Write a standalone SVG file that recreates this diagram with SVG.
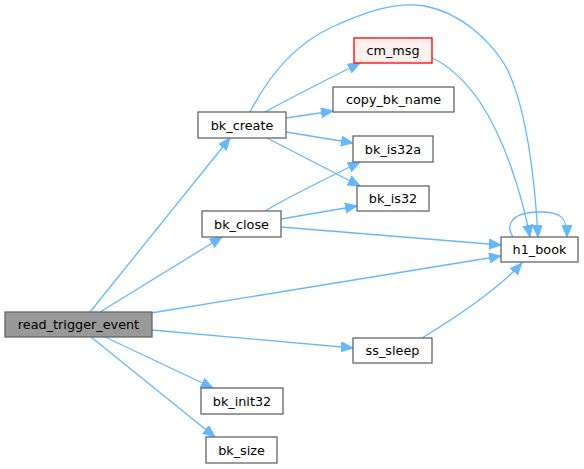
<svg xmlns="http://www.w3.org/2000/svg" width="584" height="469" viewBox="0 0 584 469">
<style>
.n rect{fill:#ffffff;stroke:#666666;stroke-width:1.3}
.n text{font-family:"DejaVu Sans",sans-serif;font-size:12.8px;fill:#000000;text-anchor:middle}
.e path{fill:none;stroke:#63b8ff;stroke-width:1.3;marker-end:url(#ah)}
</style>
<defs>
<marker id="ah" markerUnits="userSpaceOnUse" markerWidth="13" markerHeight="11" refX="12" refY="5" orient="auto">
<path d="M0,0 L12,5 L0,10 z" fill="#63b8ff" stroke="#63b8ff" stroke-width="1"/>
</marker>
</defs>
<rect width="584" height="469" fill="#ffffff"/>
<g id="edges" class="e">
<path d="M90,312 L230,138"/>
<path d="M100,312 L222,237"/>
<path d="M151,313 L501,256"/>
<path d="M152,330 L353,348"/>
<path d="M105,337 L213,388"/>
<path d="M91,337 L215,437"/>
<path d="M265,112 C285,101 320,83 360,63"/>
<path d="M286,118 L333,111"/>
<path d="M286,132 L353,143"/>
<path d="M267,138 L360,186"/>
<path d="M265,211 C290,196 325,179 360,162"/>
<path d="M281,219 L357,206"/>
<path d="M281,227 L501,245"/>
<path d="M250,112 C265,83 290,47 330,28 C365,12 395,1 425,6 C460,13 488,38 505,65 C528,108 535,185 538,237"/>
<path d="M432,58 C450,66 466,82 480,102 C505,140 522,195 530,237"/>
<path d="M422,338 C445,324 495,292 522,263"/>
<path d="M513,237 C505,225 511,212 540,212 C562,212 567,218 567,237"/>
</g>
<g id="read_trigger_event" class="n"><rect x="5" y="312" width="147" height="25" style="fill:#999999"/><text x="78.5" y="329">read_trigger_event</text></g>
<g id="bk_create" class="n"><rect x="198" y="112" width="88" height="26"/><text x="242" y="129.5">bk_create</text></g>
<g id="cm_msg" class="n"><rect x="354" y="38" width="78" height="25" style="fill:#fff0f0;stroke:#ff0000"/><text x="393" y="55">cm_msg</text></g>
<g id="copy_bk_name" class="n"><rect x="333" y="87" width="121" height="25"/><text x="393.5" y="104">copy_bk_name</text></g>
<g id="bk_is32a" class="n"><rect x="353" y="136" width="80" height="26"/><text x="393" y="153.5">bk_is32a</text></g>
<g id="bk_is32" class="n"><rect x="357" y="186" width="72" height="25"/><text x="393" y="203">bk_is32</text></g>
<g id="bk_close" class="n"><rect x="202" y="211" width="79" height="26"/><text x="241.5" y="228.5">bk_close</text></g>
<g id="h1_book" class="n"><rect x="501" y="237" width="77" height="25"/><text x="539.5" y="254">h1_book</text></g>
<g id="ss_sleep" class="n"><rect x="353" y="338" width="79" height="25"/><text x="392.5" y="355">ss_sleep</text></g>
<g id="bk_init32" class="n"><rect x="201" y="388" width="82" height="26"/><text x="242" y="405.5">bk_init32</text></g>
<g id="bk_size" class="n"><rect x="206" y="437" width="71" height="26"/><text x="241.5" y="454.5">bk_size</text></g>
</svg>
